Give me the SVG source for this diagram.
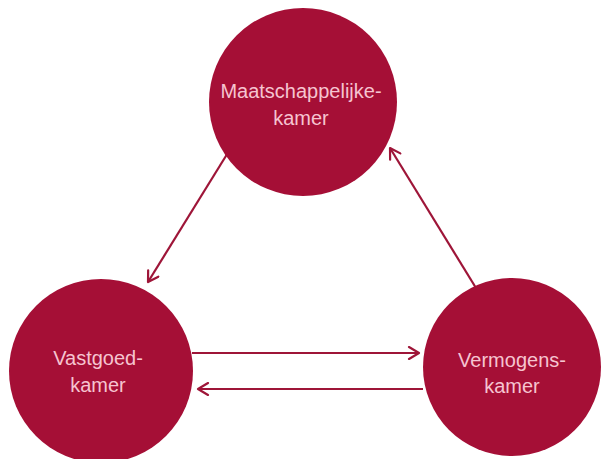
<svg xmlns="http://www.w3.org/2000/svg" width="605" height="459" viewBox="0 0 605 459">
<style>
.node{fill:#a50f36;}
.lbl{font-family:"Liberation Sans",Arial,sans-serif;font-size:20px;fill:#f6c4d0;text-anchor:middle;}
.conn{stroke:#9e1538;stroke-width:2.2;fill:none;marker-end:url(#arr);}
</style>
<defs>
<marker id="arr" viewBox="0 0 14 14" refX="12" refY="7" markerWidth="14" markerHeight="14" markerUnits="userSpaceOnUse" orient="auto">
<path d="M2,1 L12,7 L2,13" fill="none" stroke="#9e1538" stroke-width="2.2" stroke-linecap="round" stroke-linejoin="round"/>
</marker>
</defs>
<rect width="605" height="459" fill="#ffffff"/>
<g id="connectors">
<line class="conn" x1="229" y1="151" x2="148" y2="282"/>
<line class="conn" x1="476" y1="288" x2="390" y2="148"/>
<line class="conn" x1="192" y1="353" x2="419" y2="353"/>
<line class="conn" x1="423" y1="389" x2="198" y2="389"/>
</g>
<g id="maatschappelijke">
<circle class="node" cx="303" cy="102" r="94"/>
<text class="lbl" x="301" y="98">Maatschappelijke-</text>
<text class="lbl" x="301" y="125">kamer</text>
</g>
<g id="vastgoed">
<circle class="node" cx="101" cy="371" r="92"/>
<text class="lbl" x="98" y="365">Vastgoed-</text>
<text class="lbl" x="98" y="392">kamer</text>
</g>
<g id="vermogens">
<circle class="node" cx="512" cy="367" r="89"/>
<text class="lbl" x="512" y="367">Vermogens-</text>
<text class="lbl" x="512" y="393">kamer</text>
</g>
</svg>
